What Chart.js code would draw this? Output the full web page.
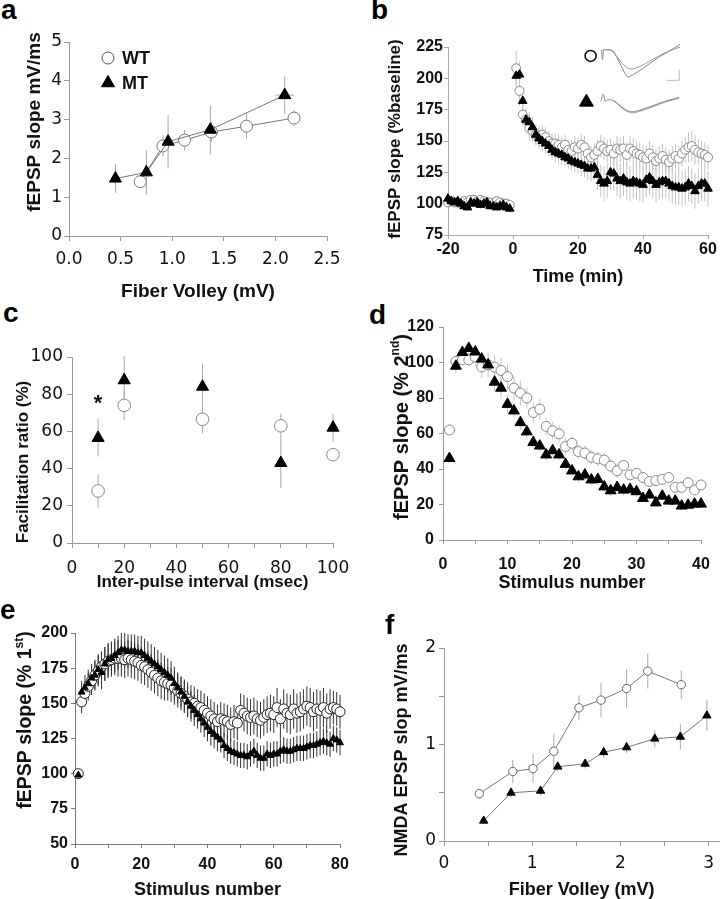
<!DOCTYPE html>
<html>
<head>
<meta charset="utf-8">
<title>fEPSP panels</title>
<script src="https://cdn.jsdelivr.net/npm/chart.js@4.4.1/dist/chart.umd.min.js"></script>
<style>
  body { margin: 0; background: #fff; }
  #page { position: relative; width: 722px; height: 899px; overflow: hidden; background: #fff; }
  canvas { position: absolute; }
  .tag { position: absolute; font: bold 28px "Liberation Sans", Arial, sans-serif; line-height: 28px; color: #000; }
</style>
</head>
<body>
<div id="page">
  <canvas id="chartA"></canvas>
  <canvas id="chartB"></canvas>
  <canvas id="chartInset"></canvas>
  <canvas id="chartC"></canvas>
  <canvas id="chartD"></canvas>
  <canvas id="chartE"></canvas>
  <canvas id="chartF"></canvas>
  <div class="tag" style="left:1px;top:-4px">a</div>
  <div class="tag" style="left:371px;top:-4px">b</div>
  <div class="tag" style="left:3px;top:299px">c</div>
  <div class="tag" style="left:369px;top:301px">d</div>
  <div class="tag" style="left:0px;top:596px">e</div>
  <div class="tag" style="left:385px;top:611px">f</div>
</div>
<script>
// ---- panel a: fEPSP slope vs fiber volley
var aWtX = [0.69, 0.91, 1.12, 1.38, 1.72, 2.18];
var aWtY = [1.40, 2.32, 2.47, 2.68, 2.83, 3.04];
var aWtErr = [0.05, 0.28, 0.27, 0.25, 0.34, 0.20];
var aMtX = [0.45, 0.75, 0.96, 1.37, 2.09];
var aMtY = [1.48, 1.64, 2.43, 2.74, 3.63];
var aMtErr = [0.37, 0.57, 0.69, 0.63, 0.48];
var aMtXErr = [0, 0, 0, 0, 0.09];

// ---- panel b: LTP time course
var bBaseX = [-20, -19, -18, -17, -16, -15, -14, -13, -12, -11, -10, -9, -8, -7, -6, -5, -4, -3, -2, -1];
var bWtBase = [101, 102, 101, 101, 100, 102, 101, 103, 103, 102, 103, 102, 101, 101, 100, 102, 101, 100, 100, 99];
var bMtBase = [104, 102, 101, 102, 100, 98, 97, 101, 100, 101, 99, 100, 101, 98, 98, 97, 98, 99, 97, 96];
var bWtPost = [208, 190, 171, 167, 160, 158, 155, 154, 155, 153,
               150, 148, 148, 147, 145, 147, 143, 142, 145, 144,
               147, 145, 140, 137, 139, 142, 146, 144, 142, 143,
               140, 144, 143, 144, 139, 144, 142, 140, 139, 137,
               136, 140, 137, 134, 136, 138, 135, 133, 136, 138,
               136, 140, 143, 145, 146, 143, 141, 140, 139, 137];
var bMtPost = [202, 203, 182, 167, 165, 161, 155, 152, 150, 148,
               146, 143, 141, 140, 139, 137, 136, 134, 133, 132,
               131, 130, 128, 128, 129, 123, 118, 116, 118, 125,
               124, 120, 118, 120, 117, 116, 118, 117, 116, 115,
               119, 121, 118, 115, 117, 118, 118, 116, 114, 113,
               113, 112, 113, 116, 114, 110, 114, 116, 116, 112];
var bWtPostErr = [14, 12, 10, 9, 9, 8, 8, 8, 8, 8,
                  8, 8, 8, 8, 8, 8, 8, 9, 9, 9,
                  9, 9, 9, 9, 9, 9, 9, 9, 9, 9,
                  9, 10, 10, 10, 10, 10, 10, 10, 10, 10,
                  10, 10, 10, 10, 10, 10, 10, 10, 10, 10,
                  10, 10, 10, 12, 12, 12, 10, 10, 10, 10];
var bMtPostErr = [10, 10, 9, 8, 8, 8, 8, 8, 8, 8,
                  8, 8, 8, 8, 8, 8, 8, 8, 8, 8,
                  9, 9, 9, 10, 10, 12, 13, 14, 14, 14,
                  14, 14, 14, 14, 14, 14, 14, 14, 14, 14,
                  14, 14, 14, 14, 14, 14, 14, 14, 14, 14,
                  14, 14, 14, 14, 14, 14, 14, 14, 14, 14];
var bBaseErr = [3, 3, 3, 3, 3, 3, 3, 3, 3, 3, 3, 3, 3, 3, 3, 3, 3, 3, 3, 3];

// inset traces (arbitrary time / voltage units)
var trWt1X = [2, 3.2, 4.3, 8.5, 15, 22, 30, 35, 40, 54, 70, 86, 100];
var trWt1Y = [-14, -27, -14, -14, -15, -26, -42, -49.5, -47, -38, -26, -16, -7];
var trWt2X = [8.5, 15, 22, 30, 38, 49, 65, 81, 100];
var trWt2Y = [-14, -15, -24, -34, -39, -36, -27, -18, -10.5];
var trMt1X = [1, 4.3, 6.4, 9.6, 17, 24.5, 33, 40.4, 49, 65, 81, 99];
var trMt1Y = [-81, -71.6, -81, -79, -80, -86, -92.5, -94.5, -92.5, -87, -81, -76];
var trMt2X = [17, 24.5, 33, 40.4, 49, 65, 81, 99];
var trMt2Y = [-80, -87, -93.5, -96, -94, -88.5, -82, -77];
var scaleBarX = [84, 99, 99];
var scaleBarY = [-53.7, -53.7, -40];

// ---- panel c: paired-pulse facilitation
var cX = [10, 20, 50, 80, 100];
var cWtY = [28, 74, 66.5, 63, 47.5];
var cWtErr = [9, 8, 7.5, 6.5, 3.5];
var cMtY = [56.5, 87.5, 84, 43, 62];
var cMtErr = [10, 13, 12.5, 13.5, 7.5];

// ---- panel d: % of 2nd response, stimuli 1..40
var dWtY = [62, 100.6, 101.5, 101.5, 103, 97.5, 98.7, 97.4, 95.5, 92,
            85.6, 82.8, 80, 71.8, 73.7, 64, 61.5, 59.8, 52.7, 54.5,
            49.8, 49, 46.6, 45.7, 45, 41.6, 39, 42, 36.7, 37.6,
            35.2, 33, 33.5, 34.2, 35.2, 29.7, 29.7, 32.3, 28.2, 31];
var dWtErr = [2, 3, 3, 4, 5, 6, 7, 7, 7, 7,
              7, 7, 6, 6, 6, 5, 5, 5, 5, 4,
              4, 4, 4, 4, 4, 4, 4, 3, 3, 3,
              3, 3, 3, 3, 3, 3, 3, 3, 3, 3];
var dMtY = [46, 98, 105.7, 108, 106, 102, 98.7, 89, 85.6, 76.5,
            72.8, 66.2, 61, 55, 53, 48, 50.4, 48, 42.7, 39,
            35.7, 36.7, 33.9, 34.2, 30, 27.8, 29.7, 28.2, 28.6, 27.3,
            23.5, 25.4, 21, 24.8, 22, 22, 19.2, 19.7, 20.3, 20.3];
var dMtErr = [2, 4, 4, 4, 4, 4, 4, 5, 6, 5,
              4, 4, 4, 3, 3, 3, 3, 3, 3, 3,
              3, 3, 3, 3, 3, 3, 3, 3, 3, 3,
              2, 2, 2, 2, 2, 2, 2, 2, 2, 2];

// ---- panel e: % of 1st response, stimuli 1..80
var eWtY = [100, 151, 157, 162, 166, 170, 173, 176, 178, 180,
            181, 182, 182, 182, 181, 182, 181, 180, 179, 177,
            176, 174, 172, 170, 168, 166, 165, 164, 163, 161,
            159, 157, 155, 153, 151, 150, 148, 147, 145, 143,
            141, 139, 137, 139, 138, 137, 135, 137, 136, 145,
            143, 141, 140, 141, 139, 138, 140, 142, 143, 142,
            147, 139, 146, 143, 142, 146, 143, 144, 146, 148,
            147, 144, 146, 145, 147, 143, 146, 147, 146, 144];
var eWtErr = [0, 8, 9, 10, 10, 10, 11, 11, 12, 12,
              12, 12, 13, 13, 13, 13, 13, 13, 13, 13,
              13, 13, 13, 13, 13, 13, 13, 12, 12, 12,
              12, 12, 12, 12, 12, 12, 12, 12, 12, 12,
              12, 12, 12, 12, 12, 12, 12, 12, 12, 12,
              13, 13, 13, 13, 13, 13, 13, 13, 13, 13,
              14, 14, 14, 14, 14, 14, 14, 14, 14, 14,
              14, 14, 14, 14, 14, 14, 14, 12, 12, 12];
var eMtY = [99, 158, 161, 164, 168, 170, 174, 172, 178, 181,
            182, 184, 186, 188, 188, 187, 187, 187, 186, 186,
            184, 182, 180, 178, 176, 174, 172, 170, 168, 164,
            161, 158, 155, 151, 148, 145, 142, 139, 136, 133,
            130, 128, 126, 124, 120, 118, 116, 115, 114, 113,
            113, 112, 114, 116, 113, 111, 111, 114, 113, 114,
            114, 116, 117, 116, 116, 117, 118, 118, 118, 119,
            120, 120, 121, 122, 123, 122, 121, 125, 124, 122];
var eMtErr = [0, 8, 9, 10, 10, 11, 11, 12, 12, 12,
              12, 12, 12, 12, 12, 12, 12, 12, 12, 12,
              12, 12, 12, 12, 12, 12, 12, 12, 12, 12,
              11, 11, 11, 11, 11, 11, 10, 10, 10, 10,
              10, 10, 10, 9, 9, 9, 9, 9, 9, 9,
              9, 9, 9, 9, 9, 9, 9, 9, 9, 9,
              9, 9, 9, 9, 9, 9, 9, 9, 9, 9,
              9, 9, 9, 9, 9, 9, 9, 9, 9, 9];

// ---- panel f: NMDA EPSP slope vs fiber volley
var fWtX = [0.40, 0.78, 1.01, 1.245, 1.53, 1.78, 2.07, 2.31, 2.69];
var fWtY = [0.49, 0.72, 0.75, 0.93, 1.38, 1.46, 1.58, 1.76, 1.62];
var fWtErr = [0.05, 0.12, 0.15, 0.18, 0.13, 0.18, 0.20, 0.18, 0.15];
var fMtX = [0.45, 0.76, 1.095, 1.29, 1.60, 1.81, 2.07, 2.39, 2.68, 2.98];
var fMtY = [0.21, 0.50, 0.52, 0.77, 0.80, 0.92, 0.97, 1.06, 1.08, 1.30];
var fMtErr = [0.02, 0.05, 0.05, 0.05, 0.05, 0.06, 0.06, 0.09, 0.13, 0.16];

var SANS = '"Liberation Sans", Arial, sans-serif';
var LIGHT = '"DejaVu Sans", sans-serif';
var boldTick = { family: SANS, size: 16, weight: 'bold' };
var lightTick = { family: LIGHT, size: 17 };

function range(a, b) {
    var r = [];
    for (var i = a; i <= b; i++) r.push(i);
    return r;
}

function points(xs, ys) {
    return xs.map(function (x, i) {
        return { x: x, y: ys[i] };
    });
}

// vertical (and optional horizontal) error bars, drawn under the markers
var errorBars = {
    id: 'errorBars',
    beforeDatasetsDraw: function (chart, args, opts) {
        if (!opts.sets) return;
        var ctx = chart.ctx, sx = chart.scales.x, sy = chart.scales.y;
        opts.sets.forEach(function (s) {
            var data = chart.data.datasets[s.index].data;
            ctx.save();
            ctx.strokeStyle = s.color;
            ctx.lineWidth = s.width || 1;
            ctx.beginPath();
            data.forEach(function (p, i) {
                var px = sx.getPixelForValue(p.x);
                if (s.err && s.err[i]) {
                    ctx.moveTo(px, sy.getPixelForValue(p.y - s.err[i]));
                    ctx.lineTo(px, sy.getPixelForValue(p.y + s.err[i]));
                }
                if (s.xerr && s.xerr[i]) {
                    var py = sy.getPixelForValue(p.y);
                    ctx.moveTo(sx.getPixelForValue(p.x - s.xerr[i]), py);
                    ctx.lineTo(sx.getPixelForValue(p.x + s.xerr[i]), py);
                }
            });
            ctx.stroke();
            ctx.restore();
        });
    }
};

// rotated y title, with optional superscript parts
var sideTitle = {
    id: 'sideTitle',
    afterDraw: function (chart, args, o) {
        if (!o.parts) return;
        var ctx = chart.ctx, size = o.size || 17;
        var big = 'bold ' + size + 'px ' + SANS;
        var small = 'bold ' + Math.round(size * 0.62) + 'px ' + SANS;
        ctx.save();
        ctx.translate(o.x, o.y);
        ctx.rotate(-Math.PI / 2);
        ctx.fillStyle = '#111';
        ctx.textBaseline = 'middle';
        ctx.textAlign = 'left';
        var w = 0;
        o.parts.forEach(function (p) {
            ctx.font = p[1] ? small : big;
            w += ctx.measureText(p[0]).width;
        });
        var x = -w / 2;
        o.parts.forEach(function (p) {
            ctx.font = p[1] ? small : big;
            ctx.fillText(p[0], x, p[1] ? -size * 0.3 : 0);
            x += ctx.measureText(p[0]).width;
        });
        ctx.restore();
    }
};

// text placed at data coordinates (e.g. significance star)
var notes = {
    id: 'notes',
    afterDatasetsDraw: function (chart, args, o) {
        if (!o.items) return;
        var ctx = chart.ctx;
        o.items.forEach(function (it) {
            ctx.save();
            ctx.font = it.font;
            ctx.fillStyle = '#111';
            ctx.textAlign = 'center';
            ctx.textBaseline = 'middle';
            ctx.fillText(it.text, chart.scales.x.getPixelForValue(it.x), chart.scales.y.getPixelForValue(it.y));
            ctx.restore();
        });
    }
};

// in-plot legend of panel a
var legendBox = {
    id: 'legendBox',
    afterDraw: function (chart, args, o) {
        if (!o.items) return;
        var ctx = chart.ctx, area = chart.chartArea;
        o.items.forEach(function (it) {
            var x = area.left + it.dx, y = area.top + it.dy;
            ctx.save();
            ctx.fillStyle = it.fill;
            ctx.strokeStyle = it.stroke;
            ctx.lineWidth = 1;
            Chart.helpers.drawPoint(ctx, { pointStyle: it.style, radius: it.r, borderWidth: 1, rotation: 0 }, x, y);
            ctx.fillStyle = '#111';
            ctx.font = 'bold 18px ' + SANS;
            ctx.textBaseline = 'middle';
            ctx.fillText(it.text, x + 14, y + 1);
            ctx.restore();
        });
    }
};

function axis(o, horizontal, size) {
    return {
        type: 'linear',
        min: o.min,
        max: o.max,
        afterFit: function (s) {
            if (horizontal) s.height = size; else s.width = size;
        },
        border: { display: true, color: o.color, width: 1 },
        grid: { drawOnChartArea: false, drawTicks: true, tickLength: o.tl, color: o.color, lineWidth: 1 },
        ticks: {
            stepSize: o.step, padding: o.pad, autoSkip: false, maxRotation: 0,
            includeBounds: false, color: '#111', font: o.font, callback: o.fmt
        },
        title: o.title
            ? { display: true, text: o.title, color: '#111', padding: 0,
                font: { family: SANS, size: o.titleSize || 17, weight: 'bold' } }
            : { display: false }
    };
}

function panel(id, box, datasets, xOpt, yOpt, extra) {
    var c = document.getElementById(id);
    var left = box.L - box.yw, top = box.T - box.pt;
    c.width = box.R - box.L + box.yw + box.pr;
    c.height = box.B - box.T + box.pt + box.xh;
    c.style.left = left + 'px';
    c.style.top = top + 'px';
    var plugins = extra || {};
    plugins.legend = { display: false };
    plugins.tooltip = { enabled: false };
    plugins.sideTitle = { parts: box.ytitle, size: box.ts, x: box.tx - left, y: box.ty - top };
    return new Chart(c.getContext('2d'), {
        type: 'scatter',
        data: { datasets: datasets },
        options: {
            responsive: false,
            animation: false,
            events: [],
            layout: { padding: { left: 0, top: box.pt, right: box.pr, bottom: 0 } },
            scales: { x: axis(xOpt, true, box.xh), y: axis(yOpt, false, box.yw) },
            plugins: plugins
        },
        plugins: [errorBars, sideTitle, notes, legendBox]
    });
}

function wt(data, r, stroke, line) {
    return {
        label: 'WT', data: data, pointStyle: 'circle', pointRadius: r,
        pointBackgroundColor: '#fff', pointBorderColor: stroke, pointBorderWidth: 1,
        showLine: !!line, borderColor: '#777', borderWidth: 1, clip: false
    };
}

function mt(data, r, line) {
    return {
        label: 'MT', data: data, pointStyle: 'triangle', pointRadius: r,
        pointBackgroundColor: '#000', pointBorderColor: '#000', pointBorderWidth: 1,
        showLine: !!line, borderColor: '#777', borderWidth: 1, clip: false
    };
}

var onlyEvery = function (n) {
    return function (v) {
        return Math.abs(v % n) < 1e-9 ? v : '';
    };
};

// a
panel('chartA',
    { L: 69, T: 42, R: 327, B: 236, yw: 49, pt: 20, pr: 28, xh: 67, tx: 35, ty: 122, ts: 19,
      ytitle: [['fEPSP slope mV/ms', 0]] },
    [mt(points(aMtX, aMtY), 7, true), wt(points(aWtX, aWtY), 6, '#777', true)],
    { min: 0, max: 2.5, step: 0.5, font: lightTick, tl: 5, pad: 8, color: '#999', title: 'Fiber Volley (mV)',
      titleSize: 19, fmt: function (v) { return v.toFixed(1); } },
    { min: 0, max: 5, step: 1, font: lightTick, tl: 5, pad: 2, color: '#999' },
    {
        errorBars: { sets: [
            { index: 1, err: aWtErr, color: '#aaa' },
            { index: 0, err: aMtErr, xerr: aMtXErr, color: '#aaa' }
        ] },
        legendBox: { items: [
            { dx: 39, dy: 16, style: 'circle', r: 6, fill: '#fff', stroke: '#555', text: 'WT' },
            { dx: 39, dy: 41, style: 'triangle', r: 7.5, fill: '#000', stroke: '#000', text: 'MT' }
        ] }
    });

// b
panel('chartB',
    { L: 448, T: 47, R: 708, B: 235, yw: 66, pt: 20, pr: 14, xh: 53, tx: 395, ty: 139, ts: 17,
      ytitle: [['fEPSP slope (%baseline)', 0]] },
    [
        mt(points(bBaseX.concat(range(1, 60)), bMtBase.concat(bMtPost)), 5),
        wt(points(bBaseX.concat(range(1, 60)), bWtBase.concat(bWtPost)), 4.5, '#888')
    ],
    { min: -20, max: 60, step: 20, font: boldTick, tl: 4, pad: 1, color: '#aaa', title: 'Time (min)', titleSize: 18 },
    { min: 75, max: 225, step: 25, font: boldTick, tl: 4, pad: 1, color: '#aaa' },
    {
        errorBars: { sets: [
            { index: 1, err: bBaseErr.concat(bWtPostErr), color: '#c4c4c4' },
            { index: 0, err: bBaseErr.concat(bMtPostErr), color: '#c4c4c4' }
        ] }
    });

// b inset: example traces
(function () {
    var c = document.getElementById('chartInset');
    c.width = 118;
    c.height = 95;
    c.style.left = '571px';
    c.style.top = '30px';
    function trace(xs, ys, color) {
        return { data: points(xs, ys), showLine: true, borderColor: color, borderWidth: 1,
                 pointRadius: 0, cubicInterpolationMode: 'monotone', clip: false };
    }
    new Chart(c.getContext('2d'), {
        type: 'scatter',
        data: { datasets: [
            { data: [{ x: -11.7, y: -22 }], pointStyle: 'circle', pointRadius: 5.5, pointBorderWidth: 1.5,
              pointBorderColor: '#000', pointBackgroundColor: '#fff', clip: false },
            { data: [{ x: -17, y: -82 }], pointStyle: 'triangle', pointRadius: 8, pointBorderWidth: 1,
              pointBorderColor: '#000', pointBackgroundColor: '#000', clip: false },
            trace(trWt1X, trWt1Y, '#888'),
            trace(trWt2X, trWt2Y, '#999'),
            trace(trMt1X, trMt1Y, '#888'),
            trace(trMt2X, trMt2Y, '#999'),
            { data: points(scaleBarX, scaleBarY), showLine: true, borderColor: '#bbb', borderWidth: 1,
              pointRadius: 0, tension: 0, clip: false }
        ] },
        options: {
            responsive: false, animation: false, events: [],
            layout: { padding: 0 },
            scales: {
                x: { type: 'linear', min: -25, max: 100, display: false },
                y: { type: 'linear', min: -100, max: 0, display: false }
            },
            plugins: { legend: { display: false }, tooltip: { enabled: false } }
        }
    });
})();

// c
panel('chartC',
    { L: 72, T: 357, R: 333, B: 543, yw: 62, pt: 20, pr: 28, xh: 50, tx: 23, ty: 462, ts: 17,
      ytitle: [['Facilitation ratio (%)', 0]] },
    [mt(points(cX, cMtY), 7), wt(points(cX, cWtY), 6.3, '#888')],
    { min: 0, max: 100, step: 10, font: lightTick, tl: 5, pad: 10, color: '#999',
      title: 'Inter-pulse interval (msec)', titleSize: 17, fmt: onlyEvery(20) },
    { min: 0, max: 100, step: 20, font: lightTick, tl: 5, pad: 4, color: '#999' },
    {
        errorBars: { sets: [
            { index: 1, err: cWtErr, color: '#aaa' },
            { index: 0, err: cMtErr, color: '#aaa' }
        ] },
        notes: { items: [{ x: 10, y: 75, text: '*', font: 'bold 22px ' + SANS }] }
    });

// d
panel('chartD',
    { L: 443, T: 327, R: 701, B: 540, yw: 55, pt: 20, pr: 22, xh: 54, tx: 402, ty: 427, ts: 20,
      ytitle: [['fEPSP slope (% 2', 0], ['nd', 1], [')', 0]] },
    [mt(points(range(1, 40), dMtY), 6.3), wt(points(range(1, 40), dWtY), 5, '#888')],
    { min: 0, max: 40, step: 5, font: boldTick, tl: 4, pad: 11, color: '#999',
      title: 'Stimulus number', titleSize: 18, fmt: onlyEvery(10) },
    { min: 0, max: 120, step: 20, font: boldTick, tl: 4, pad: 5, color: '#999' },
    {
        errorBars: { sets: [
            { index: 1, err: dWtErr, color: '#c4c4c4' },
            { index: 0, err: dMtErr, color: '#c4c4c4' }
        ] }
    });

// e
panel('chartE',
    { L: 75, T: 633, R: 340, B: 844, yw: 63, pt: 20, pr: 20, xh: 57, tx: 26, ty: 720, ts: 19.5,
      ytitle: [['fEPSP slope (% 1', 0], ['st', 1], [')', 0]] },
    [mt(points(range(1, 80), eMtY), 4), wt(points(range(1, 80), eWtY), 5, '#222')],
    { min: 0, max: 80, step: 10, font: boldTick, tl: 4, pad: 7, color: '#777',
      title: 'Stimulus number', titleSize: 18, fmt: onlyEvery(20) },
    { min: 50, max: 200, step: 25, font: boldTick, tl: 4, pad: 3, color: '#777' },
    {
        errorBars: { sets: [
            { index: 1, err: eWtErr, color: '#333' },
            { index: 0, err: eMtErr, color: '#333' }
        ] }
    });

// f
panel('chartF',
    { L: 444, T: 648, R: 721, B: 841, yw: 56, pt: 20, pr: 4, xh: 60, tx: 402, ty: 750, ts: 18,
      ytitle: [['NMDA EPSP slop mV/ms', 0]] },
    [mt(points(fMtX, fMtY), 4.8, true), wt(points(fWtX, fWtY), 4.2, '#666', true)],
    { min: 0, max: 3.12, step: 0.5, font: lightTick, tl: 5, pad: 7, color: '#999',
      title: 'Fiber Volley (mV)', titleSize: 18, fmt: function (v) { return Number.isInteger(v) ? v : ''; } },
    { min: 0, max: 2, step: 0.5, font: lightTick, tl: 5, pad: 3, color: '#999',
      fmt: function (v) { return Number.isInteger(v) ? v : ''; } },
    {
        errorBars: { sets: [
            { index: 1, err: fWtErr, color: '#aaa' },
            { index: 0, err: fMtErr, color: '#aaa' }
        ] }
    });
</script>
</body>
</html>
